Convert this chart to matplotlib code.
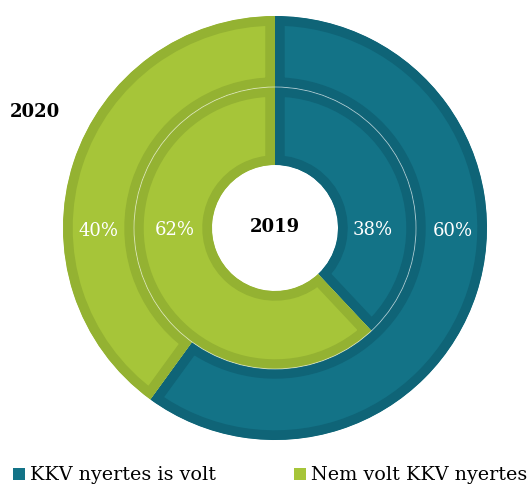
"""
Nested donut: KKV winners 2019 (inner ring) vs 2020 (outer ring).
Saves out.png at 531x487 px.
"""
import matplotlib
matplotlib.use("Agg")
import matplotlib.pyplot as plt
from matplotlib.patches import Patch

# ── data ──────────────────────────────────────────────────────────────────────
CATEGORIES = ["KKV nyertes is volt", "Nem volt KKV nyertes"]
YEAR_OUTER = "2020"
YEAR_INNER = "2019"
SHARE_2020 = [60, 40]
SHARE_2019 = [38, 62]

# ── style ─────────────────────────────────────────────────────────────────────
FILL = ["#137387", "#a6c539"]
EDGE = ["#0f6477", "#94b232"]
plt.rcParams["font.family"] = ["DejaVu Serif"]

W, H = 531, 487
CX, CY = 275, H - 228
R_OUT, R_MID, R_IN = 212, 141, 63

fig = plt.figure(figsize=(W / 100, H / 100), dpi=100)
ax = fig.add_axes([0, 0, 1, 1])


def ring(values, radius, width):
    wedges, _ = ax.pie(values, radius=radius, center=(CX, CY),
                       startangle=90, counterclock=False, colors=FILL,
                       wedgeprops={"width": width, "linewidth": 0})
    # darker inner border: stroke clipped to the wedge so it only shows inside
    for w, ec in zip(wedges, EDGE):
        w.set_edgecolor(ec)
        w.set_linewidth(14)
        w.set_joinstyle("miter")
        w.set_clip_on(True)
        w.set_clip_path(w)
    return wedges


ring(SHARE_2020, R_OUT, R_OUT - R_MID)
ring(SHARE_2019, R_MID, R_MID - R_IN)
ax.add_patch(plt.Circle((CX, CY), R_MID, fill=False, ec="white", lw=0.6, alpha=0.6))

ax.set_xlim(0, W)
ax.set_ylim(0, H)
ax.set_aspect("equal")
ax.axis("off")

# percent labels on the horizontal centre line
r_o = (R_OUT + R_MID) / 2 + 1
r_i = (R_MID + R_IN) / 2
lab = dict(color="white", fontsize=13, ha="center", va="center")
ax.text(CX + r_o, CY - 3, f"{SHARE_2020[0]}%", **lab)
ax.text(CX - r_o + 1, CY - 3, f"{SHARE_2020[1]}%", **lab)
ax.text(CX + r_i - 4, CY - 2, f"{SHARE_2019[0]}%", **lab)
ax.text(CX - r_i + 2, CY - 2, f"{SHARE_2019[1]}%", **lab)

ax.text(CX, CY + 1, YEAR_INNER, fontsize=13, fontweight="bold",
        ha="center", va="center", color="black")
ax.text(35, H - 112, YEAR_OUTER, fontsize=13, fontweight="bold",
        ha="center", va="center", color="black")

handles = [Patch(facecolor=c, edgecolor="none") for c in FILL]
fig.legend(handles, CATEGORIES, loc="lower left", bbox_to_anchor=(-0.008, -0.03),
           ncol=2, frameon=False, fontsize=13.8, handlelength=0.6,
           handleheight=0.6, handletextpad=0.28, columnspacing=4.1)

fig.savefig("out.png", dpi=100)
